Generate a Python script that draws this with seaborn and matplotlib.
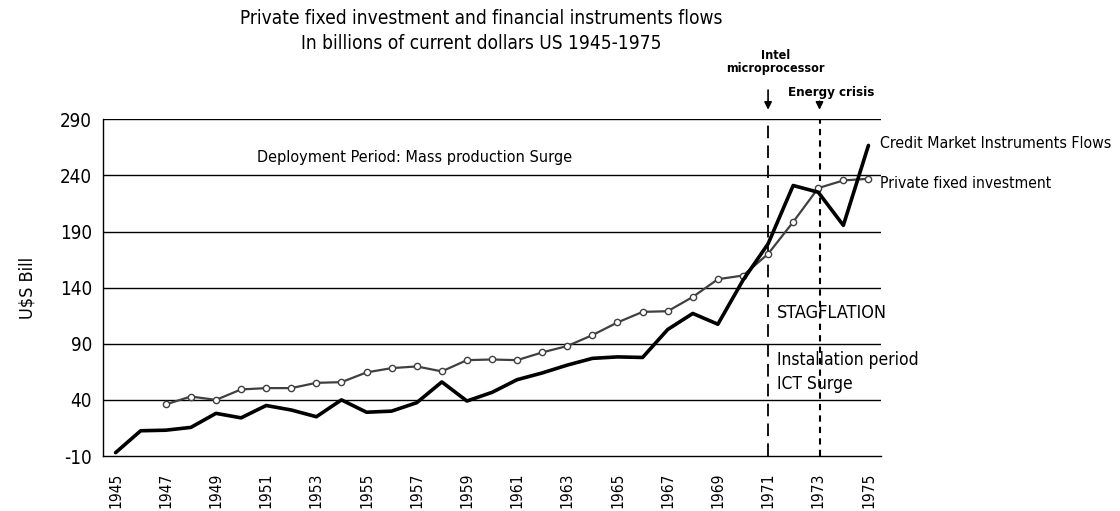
import matplotlib
matplotlib.use('Agg')
import matplotlib.pyplot as plt
import seaborn as sns
import pandas as pd
import numpy as np

# Years on the categorical x axis
years = list(range(1945, 1976))

# Credit Market Instruments Flows (US$ bill)
credit_flows = [-7, 12.5, 13, 15.5, 28, 24, 35, 31, 25, 40,
                29, 30, 37.5, 56, 39, 46.7, 58, 64, 71, 77,
                78.3, 77.8, 102.7, 117, 107.4, 146.6, 179, 231, 225, 195.5,
                266.7]

# Private fixed investment (US$ bill), no data before 1947
private_inv = [np.nan, np.nan, 36, 43, 40, 49.3, 50.5, 50.5, 55.2, 55.8,
               64.5, 68.3, 69.8, 65.4, 75.4, 76, 75.4, 82.3, 88, 97.7,
               109, 118.4, 119, 131.7, 147.5, 150.8, 170, 198.5, 228.7, 235.5,
               237]

y_ticks = [-10, 40, 90, 140, 190, 240, 290]

df = pd.DataFrame({'idx': np.arange(len(years)), 'year': years,
                   'credit': credit_flows, 'private': private_inv})

sns.set_style('white')
plt.rcParams['font.family'] = ['DejaVu Sans']
plt.rcParams['font.stretch'] = 'condensed'
# pure black text like the original
plt.rcParams['text.color'] = 'black'
plt.rcParams['axes.labelcolor'] = 'black'
plt.rcParams['xtick.color'] = 'black'
plt.rcParams['ytick.color'] = 'black'

fig = plt.figure(figsize=(11.2, 5.11), dpi=100)
ax = fig.add_axes([0.092, 0.1076, 0.6946, 0.659])

# horizontal gridlines
for yv in y_ticks[1:]:
    ax.axhline(yv, color='black', lw=1.0, zorder=1)

sns.lineplot(data=df, x='idx', y='private', ax=ax, color='#404040', lw=1.6,
             marker='o', markersize=4.5, markerfacecolor='white',
             markeredgecolor='#404040', markeredgewidth=1.0, zorder=3)
sns.lineplot(data=df, x='idx', y='credit', ax=ax, color='black', lw=2.6, zorder=4)

i71 = years.index(1971)
i73 = years.index(1973)
ax.axvline(i71, color='black', lw=1.3, dashes=(7, 4), zorder=2)
ax.axvline(i73 + 0.05, color='black', lw=1.5, dashes=(3, 2.5), zorder=2)

ax.set_xlim(-0.5, len(years) - 0.5)
ax.set_ylim(-10, 290)
ax.set_yticks(y_ticks)
ax.set_yticklabels([str(v) for v in y_ticks], fontsize=13.5)
ax.set_xticks(np.arange(0, len(years), 2))
ax.set_xticklabels([str(y) for y in years[::2]], rotation=90, fontsize=11.2)
ax.set_xticks(np.arange(-0.5, len(years), 1), minor=True)
ax.tick_params(axis='x', which='major', length=0, pad=12)
ax.tick_params(axis='x', which='minor', length=5, width=1, color='black', direction='out')
ax.tick_params(axis='y', length=5, width=1, color='black', direction='out', pad=3)

for s in ['top', 'right']:
    ax.spines[s].set_visible(False)
for s in ['left', 'bottom']:
    ax.spines[s].set_color('black')
    ax.spines[s].set_linewidth(1.0)

ax.set_xlabel('')
ax.set_ylabel('U$S Bill', fontsize=13, labelpad=17)

# annotations
ax.text(5.65, 256, 'Deployment Period: Mass production Surge', fontsize=11.6, va='center')
ax.text(26.35, 117, 'STAGFLATION', fontsize=13, va='center')
ax.text(26.35, 75.4, 'Installation period', fontsize=12.5, va='center')
ax.text(26.35, 54, 'ICT Surge', fontsize=12.5, va='center')
ax.text(30.45, 268.5, 'Credit Market Instruments Flows', fontsize=11.4, va='center', clip_on=False)
ax.text(30.45, 233, 'Private fixed investment', fontsize=11.2, va='center', clip_on=False)

ax.text(i71 + 0.3, 341, 'Intel\nmicroprocessor', fontsize=9, fontweight='bold',
        ha='center', va='center', linespacing=0.95, clip_on=False)
ax.text(i73 + 0.5, 314, 'Energy crisis', fontsize=9.5, fontweight='bold',
        ha='center', va='center', clip_on=False)
ax.annotate('', xy=(i71, 296), xytext=(i71, 318.5), annotation_clip=False,
            arrowprops=dict(arrowstyle='-|>', color='black', lw=1.2, mutation_scale=11))
ax.annotate('', xy=(i73 + 0.05, 296), xytext=(i73 + 0.05, 308.5), annotation_clip=False,
            arrowprops=dict(arrowstyle='-|>', color='black', lw=1.2, mutation_scale=11))

fig.text(0.43, 0.982, 'Private fixed investment and financial instruments flows\nIn billions of current dollars US 1945-1975',
         fontsize=13.7, ha='center', va='top', linespacing=1.4)

fig.savefig('out.png', dpi=100)
